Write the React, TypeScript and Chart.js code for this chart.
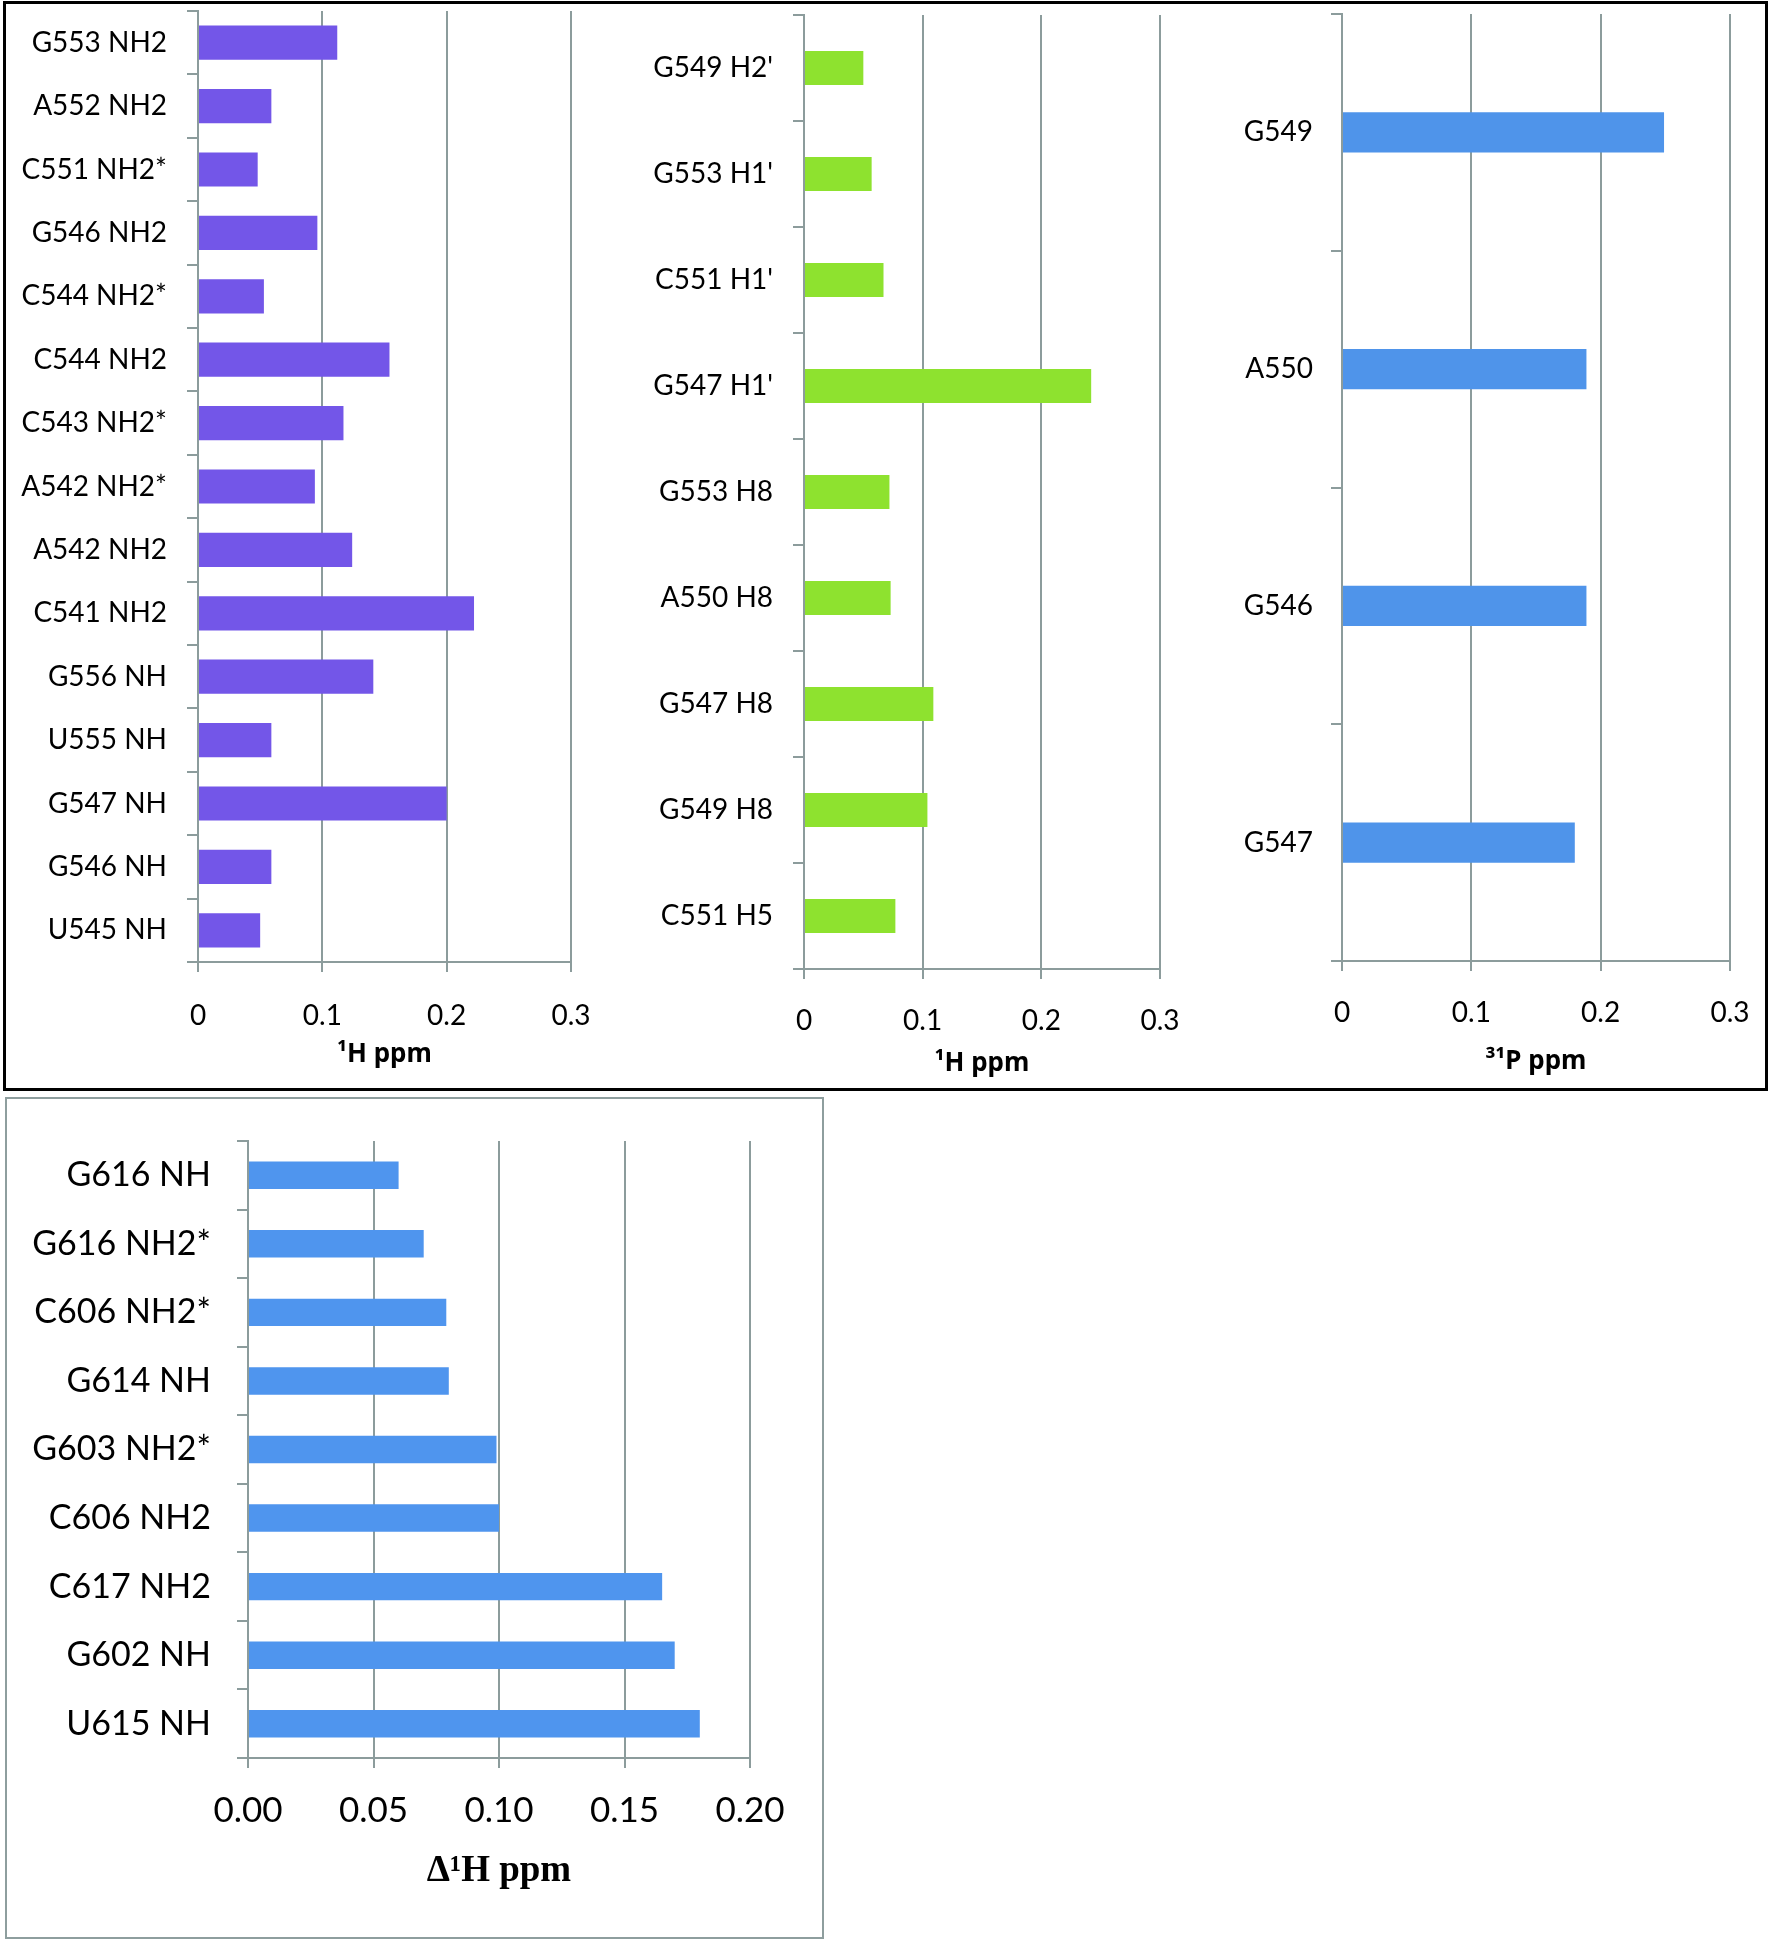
import React, { useEffect, useRef } from "react";
import { Chart, registerables } from "chart.js";

Chart.register(...registerables);

// ---------- data ----------
const purpleLabels = [
  "G553 NH2", "A552 NH2", "C551 NH2*", "G546 NH2", "C544 NH2*", "C544 NH2",
  "C543 NH2*", "A542 NH2*", "A542 NH2", "C541 NH2", "G556 NH", "U555 NH",
  "G547 NH", "G546 NH", "U545 NH",
];
const purpleValues = [
  0.112, 0.059, 0.048, 0.096, 0.053, 0.154, 0.117, 0.094, 0.124, 0.222,
  0.141, 0.059, 0.2, 0.059, 0.05,
];

const greenLabels = [
  "G549 H2'", "G553 H1'", "C551 H1'", "G547 H1'", "G553 H8", "A550 H8",
  "G547 H8", "G549 H8", "C551 H5",
];
const greenValues = [0.05, 0.057, 0.067, 0.242, 0.072, 0.073, 0.109, 0.104, 0.077];

const phosLabels = ["G549", "A550", "G546", "G547"];
const phosValues = [0.249, 0.189, 0.189, 0.18];

const bottomLabels = [
  "G616 NH", "G616 NH2*", "C606 NH2*", "G614 NH", "G603 NH2*", "C606 NH2",
  "C617 NH2", "G602 NH", "U615 NH",
];
const bottomValues = [0.06, 0.07, 0.079, 0.08, 0.099, 0.1, 0.165, 0.17, 0.18];

const topTicks = ["0", "0.1", "0.2", "0.3"];
const bottomTicks = ["0.00", "0.05", "0.10", "0.15", "0.20"];

const titleH = "\u00B9H ppm";
const titleP = "\u00B3\u00B9P ppm";
const titleDH = "\u0394\u00B9H ppm";

// ---------- styling ----------
const GRID = "#8C9C9C";
const SANS = "Lato, 'Open Sans', sans-serif";

type BarProps = {
  labels: string[];
  values: number[];
  ticks: string[];
  title: string;
  color: string;
  max: number;
  step: number;
  left: number;
  top: number;
  width: number;
  height: number;
  plotLeft: number;
  plotTop: number;
  plotRight: number;
  plotBottom: number;
  barPct: number;
  labelSize: number;
  labelPad: number;
  tickSize: number;
  tickPad: number;
  titleFont: { family: string; size: number; weight: string };
};

function BarPanel(p: BarProps) {
  const ref = useRef<HTMLCanvasElement | null>(null);
  useEffect(() => {
    if (!ref.current) return;
    const yWidth = p.plotLeft - p.left;
    const xHeight = p.top + p.height - p.plotBottom;
    const chart = new Chart(ref.current, {
      type: "bar",
      data: {
        labels: p.labels,
        datasets: [
          {
            data: p.values,
            backgroundColor: p.color,
            borderWidth: 0,
            barPercentage: p.barPct,
            categoryPercentage: 1,
          },
        ],
      },
      options: {
        indexAxis: "y",
        animation: false,
        responsive: false,
        devicePixelRatio: 1,
        layout: {
          padding: {
            left: 0,
            top: p.plotTop - p.top,
            right: p.left + p.width - p.plotRight,
            bottom: 0,
          },
        },
        plugins: { legend: { display: false }, tooltip: { enabled: false } },
        scales: {
          x: {
            type: "linear",
            min: 0,
            max: p.max,
            ticks: {
              stepSize: p.step,
              color: "#000",
              padding: p.tickPad,
              font: { family: SANS, size: p.tickSize },
              maxRotation: 0,
              callback: (_v: any, i: number) => p.ticks[i],
            },
            grid: { color: GRID, lineWidth: 2, tickLength: 10, drawTicks: true },
            border: { color: GRID, width: 2 },
            title: {
              display: true,
              text: p.title,
              color: "#000",
              font: p.titleFont as any,
              padding: 0,
            },
            afterFit: (s: any) => {
              s.height = xHeight;
              s.paddingLeft = 0;
              s.paddingRight = 0;
            },
          } as any,
          y: {
            type: "category",
            ticks: {
              color: "#000",
              padding: p.labelPad,
              font: { family: SANS, size: p.labelSize },
            },
            grid: {
              offset: true,
              drawOnChartArea: false,
              color: GRID,
              lineWidth: 2,
              tickLength: 11,
            },
            border: { color: GRID, width: 2 },
            afterFit: (s: any) => {
              s.width = yWidth;
              s.paddingTop = 0;
              s.paddingBottom = 0;
            },
          } as any,
        },
      },
    });
    return () => chart.destroy();
  }, []);
  return (
    <canvas
      ref={ref}
      width={p.width}
      height={p.height}
      style={{
        position: "absolute",
        left: p.left,
        top: p.top,
        width: p.width,
        height: p.height,
      }}
    />
  );
}

export default function App() {
  const topTitleFont = { family: "'Noto Sans', 'Open Sans', sans-serif", size: 26, weight: "bold" };
  return (
    <div
      style={{
        position: "absolute",
        left: 0,
        top: 0,
        width: 1772,
        height: 1945,
        background: "#fff",
        overflow: "hidden",
      }}
    >
      <div
        style={{
          position: "absolute",
          left: 3,
          top: 1,
          width: 1765,
          height: 1090,
          border: "3px solid #000",
          boxSizing: "border-box",
        }}
      />
      <div
        style={{
          position: "absolute",
          left: 5,
          top: 1097,
          width: 819,
          height: 842,
          border: "2px solid #8E9E9E",
          boxSizing: "border-box",
        }}
      />
      <BarPanel
        labels={purpleLabels}
        values={purpleValues}
        ticks={topTicks}
        title={titleH}
        color="#7356E8"
        max={0.3}
        step={0.1}
        left={10}
        top={0}
        width={600}
        height={1070}
        plotLeft={198}
        plotTop={11}
        plotRight={571}
        plotBottom={962}
        barPct={0.54}
        labelSize={28}
        labelPad={20}
        tickSize={28}
        tickPad={27}
        titleFont={topTitleFont}
      />
      <BarPanel
        labels={greenLabels}
        values={greenValues}
        ticks={topTicks}
        title={titleH}
        color="#8EE22F"
        max={0.3}
        step={0.1}
        left={615}
        top={0}
        width={590}
        height={1079}
        plotLeft={804}
        plotTop={15}
        plotRight={1160}
        plotBottom={969}
        barPct={0.32}
        labelSize={28}
        labelPad={20}
        tickSize={28}
        tickPad={25}
        titleFont={topTitleFont}
      />
      <BarPanel
        labels={phosLabels}
        values={phosValues}
        ticks={topTicks}
        title={titleP}
        color="#4F94EA"
        max={0.3}
        step={0.1}
        left={1215}
        top={0}
        width={550}
        height={1077}
        plotLeft={1342}
        plotTop={14}
        plotRight={1730}
        plotBottom={961}
        barPct={0.17}
        labelSize={28}
        labelPad={18}
        tickSize={28}
        tickPad={25}
        titleFont={topTitleFont}
      />
      <BarPanel
        labels={bottomLabels}
        values={bottomValues}
        ticks={bottomTicks}
        title={titleDH}
        color="#4F95EE"
        max={0.2}
        step={0.05}
        left={10}
        top={1100}
        width={800}
        height={794}
        plotLeft={248}
        plotTop={1141}
        plotRight={750}
        plotBottom={1758}
        barPct={0.4}
        labelSize={34}
        labelPad={26}
        tickSize={35}
        tickPad={22}
        titleFont={{ family: "'Liberation Serif', 'Times New Roman', serif", size: 37, weight: "bold" }}
      />
    </div>
  );
}
